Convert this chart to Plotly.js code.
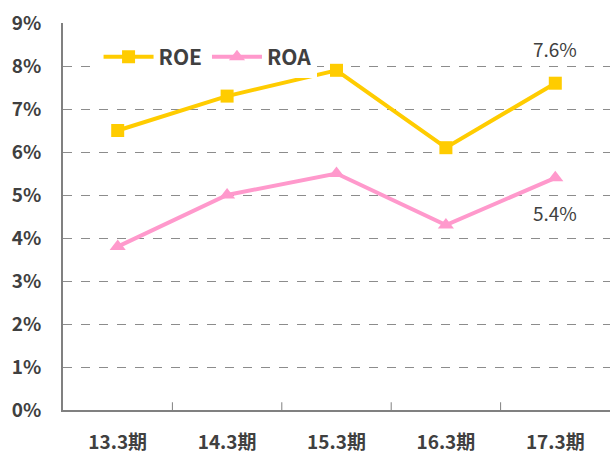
<!DOCTYPE html>
<html><head><meta charset="utf-8">
<script src="https://cdn.plot.ly/plotly-3.0.1.min.js"></script>
<style>body{margin:0;}#c{width:612px;height:454px;}</style>
</head><body><div id="c"></div>
<script>
const categories = ['13.3期','14.3期','15.3期','16.3期','17.3期'];
const roe = [6.5, 7.3, 7.9, 6.1, 7.6];
const roa = [3.8, 5.0, 5.5, 4.3, 5.4];
const yTicks = [0,1,2,3,4,5,6,7,8,9];
const yTickText = yTicks.map(v => v + '%');
const FONT = '"Noto Sans CJK JP", "Noto Sans", sans-serif';

const traces = [
  {x: categories, y: roe, name: 'ROE', type: 'scatter', mode: 'lines+markers',
   line: {color: '#FFCC00', width: 4}, marker: {symbol: 'square', size: 13, color: '#FFCC00'}},
  {x: categories, y: roa, name: 'ROA', type: 'scatter', mode: 'lines+markers',
   line: {color: '#FF99CC', width: 4}, marker: {symbol: 'triangle-up', size: 14, color: '#FF99CC'}}
];

const last = categories.length - 1;
const layout = {
  width: 612, height: 454,
  margin: {l: 63, r: 2, t: 23, b: 44},
  paper_bgcolor: '#fff', plot_bgcolor: '#fff',
  font: {family: FONT, color: '#404040', size: 19},
  showlegend: true,
  legend: {orientation: 'h', x: 0.065, y: 0.912, xanchor: 'left', yanchor: 'middle',
    bgcolor: '#fff', font: {family: FONT, size: 21, color: '#404040', weight: 'bold'},
    itemwidth: 50, tracegroupgap: 0},
  xaxis: {type: 'category', showgrid: false, showline: true, linecolor: '#808080', linewidth: 2,
    ticks: '', tickfont: {family: FONT, size: 19, color: '#404040', weight: 'bold'}, ticklabelstandoff: 14,
    range: [-0.5, categories.length - 0.5], fixedrange: true},
  yaxis: {range: [0, 9], tickvals: yTicks, ticktext: yTickText, showline: true, linecolor: '#808080', linewidth: 2,
    showgrid: true, gridcolor: '#8c8c8c', griddash: 'dash', gridwidth: 1, zeroline: false, ticks: '',
    tickfont: {family: FONT, size: 19, color: '#404040', weight: 'bold'}, ticklabelstandoff: 16},
  shapes: [],
  annotations: [
    {x: categories[last], y: roe[last] + 0.8, xref: 'x', yref: 'y', text: roe[last].toFixed(1) + '%', showarrow: false,
     font: {family: FONT, size: 19, color: '#404040'}},
    {x: categories[last], y: roa[last] - 0.8, xref: 'x', yref: 'y', text: roa[last].toFixed(1) + '%', showarrow: false,
     font: {family: FONT, size: 19, color: '#404040'}}
  ]
};
// category boundary ticks on x axis (inside, pointing up)
for (let i = 1; i < categories.length; i++) {
  layout.shapes.push({type: 'line', xref: 'x', yref: 'paper', x0: i - 0.5, x1: i - 0.5, y0: 0, y1: 0.02,
    line: {color: '#808080', width: 1}});
}
Plotly.newPlot('c', traces, layout, {displayModeBar: false, staticPlot: true});
</script></body></html>
